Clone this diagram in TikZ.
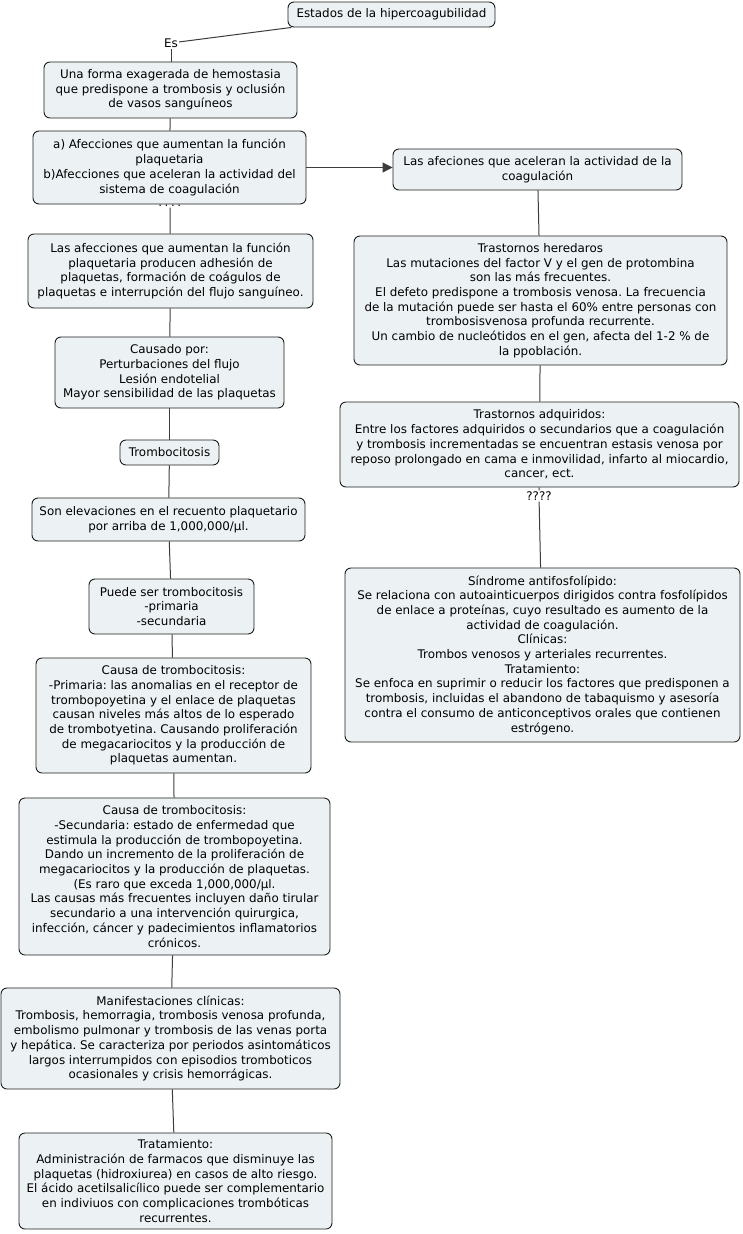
\documentclass[tikz,border=0pt]{standalone}
\usepackage{fontspec}
\setmainfont{DejaVu Sans}
\usetikzlibrary{arrows.meta}
\frenchspacing
\definecolor{boxfill}{HTML}{ECF2F4}
\definecolor{boxline}{HTML}{1E1E1E}
\definecolor{conline}{HTML}{3C3C3C}
\tikzset{
  cbox/.style={draw=boxline, line width=0.9pt, fill=boxfill, rounded corners=6pt,
    align=center, inner sep=0pt, font=\fontsize{11.9}{14.7}\selectfont},
  clabel/.style={inner sep=1pt, font=\fontsize{11.9}{14.7}\selectfont},
  conn/.style={draw=conline, line width=1pt},
}
\begin{document}
\begin{tikzpicture}[x=1pt,y=-1pt]
\useasboundingbox (0,0) rectangle (742,1234);
\fill[white] (0,0) rectangle (742,1234);
% label mostly hidden under node a)
\node[clabel] (q1) at (170,202) {????};
\node[clabel] (es) at (171,43) {Es};
\node[clabel] (q2) at (539,496) {????};

\node[cbox, minimum width=207pt, minimum height=25pt] (estados) at (391.5,14.5) {Estados de la hipercoagubilidad};
\node[cbox, minimum width=253pt, minimum height=56pt] (forma) at (170.5,90) {Una forma exagerada de hemostasia\\que predispone a trombosis y oclusión\\de vasos sanguíneos};
\node[cbox, minimum width=273pt, minimum height=73pt] (afec) at (169.5,167.5) {a) Afecciones que aumentan la función\\plaquetaria\\b)Afecciones que aceleran la actividad del\\sistema de coagulación};
\node[cbox, minimum width=289pt, minimum height=41pt] (acel) at (537.5,169.5) {Las afeciones que aceleran la actividad de la\\coagulación};
\node[cbox, minimum width=285pt, minimum height=74pt] (aument) at (170.5,271) {Las afecciones que aumentan la función\\plaquetaria producen adhesión de\\plaquetas, formación de coágulos de\\plaquetas e interrupción del flujo sanguíneo.};
\node[cbox, minimum width=229pt, minimum height=71pt] (causado) at (169.5,372.5) {Causado por:\\Perturbaciones del flujo\\Lesión endotelial\\Mayor sensibilidad de las plaquetas};
\node[cbox, minimum width=99pt, minimum height=25pt] (tromb) at (169.5,452.5) {Trombocitosis};
\node[cbox, minimum width=273pt, minimum height=43pt] (elev) at (168.5,519.5) {Son elevaciones en el recuento plaquetario\\por arriba de 1,000,000/µl.};
\node[cbox, minimum width=165pt, minimum height=55pt] (puede) at (171.5,606.5) {Puede ser trombocitosis\\-primaria\\-secundaria};
\node[cbox, minimum width=275pt, minimum height=115pt] (prim) at (173.5,715.5) {Causa de trombocitosis:\\-Primaria: las anomalias en el receptor de\\trombopoyetina y el enlace de plaquetas\\causan niveles más altos de lo esperado\\de trombotyetina. Causando proliferación\\de megacariocitos y la producción de\\plaquetas aumentan.};
\node[cbox, minimum width=311pt, minimum height=157pt] (secu) at (174.5,876.5) {Causa de trombocitosis:\\-Secundaria: estado de enfermedad que\\estimula la producción de trombopoyetina.\\Dando un incremento de la proliferación de\\megacariocitos y la producción de plaquetas.\\(Es raro que exceda 1,000,000/µl.\\Las causas más frecuentes incluyen daño tirular\\secundario a una intervención quirurgica,\\infección, cáncer y padecimientos inflamatorios\\crónicos.};
\node[cbox, minimum width=339pt, minimum height=101pt] (manif) at (170.5,1038.5) {Manifestaciones clínicas:\\Trombosis, hemorragia, trombosis venosa profunda,\\embolismo pulmonar y trombosis de las venas porta\\y hepática. Se caracteriza por periodos asintomáticos\\largos interrumpidos con episodios tromboticos\\ocasionales y crisis hemorrágicas.};
\node[cbox, minimum width=313pt, minimum height=96pt] (trat) at (175.5,1181) {Tratamiento:\\Administración de farmacos que disminuye las\\plaquetas (hidroxiurea) en casos de alto riesgo.\\El ácido acetilsalicílico puede ser complementario\\en indiviuos con complicaciones trombóticas\\recurrentes.};
\node[cbox, minimum width=373pt, minimum height=129pt] (hered) at (540.5,300.5) {Trastornos heredaros\\Las mutaciones del factor V y el gen de protombina\\son las más frecuentes.\\El defeto predispone a trombosis venosa. La frecuencia\\de la mutación puede ser hasta el 60\% entre personas con\\trombosisvenosa profunda recurrente.\\Un cambio de nucleótidos en el gen, afecta del 1-2 \% de\\la ppoblación.};
\node[cbox, minimum width=399pt, minimum height=85pt] (adq) at (539.5,444.5) {Trastornos adquiridos:\\Entre los factores adquiridos o secundarios que a coagulación\\y trombosis incrementadas se encuentran estasis venosa por\\reposo prolongado en cama e inmovilidad, infarto al miocardio,\\cancer, ect.};
\node[cbox, minimum width=395pt, minimum height=174pt] (sind) at (542.5,655) {Síndrome antifosfolípido:\\Se relaciona con autoainticuerpos dirigidos contra fosfolípidos\\de enlace a proteínas, cuyo resultado es aumento de la\\actividad de coagulación.\\Clínicas:\\Trombos venosos y arteriales recurrentes.\\Tratamiento:\\Se enfoca en suprimir o reducir los factores que predisponen a\\trombosis, incluidas el abandono de tabaquismo y asesoría\\contra el consumo de anticonceptivos orales que contienen\\estrógeno.};

% connectors
\draw[conn] (estados) -- (es);
\draw[conn] (es) -- (es |- forma.north);
\draw[conn] (forma) -- (afec);
\draw[conn] (q1.south) -- (aument);
\draw[conn, -{Triangle[length=10pt,width=10pt]}] (afec.east) -- (afec.east -| acel.west);
\draw[conn] (aument) -- (causado);
\draw[conn] (causado) -- (tromb);
\draw[conn] (tromb) -- (elev);
\draw[conn] (elev) -- (puede);
\draw[conn] (puede) -- (prim);
\draw[conn] (prim) -- (secu);
\draw[conn] (secu) -- (manif);
\draw[conn] (manif) -- (trat);
\draw[conn] (acel) -- (hered);
\draw[conn] (hered) -- (adq);
\draw[conn] (adq) -- (q2);
\draw[conn] (q2) -- (sind);
\end{tikzpicture}
\end{document}
